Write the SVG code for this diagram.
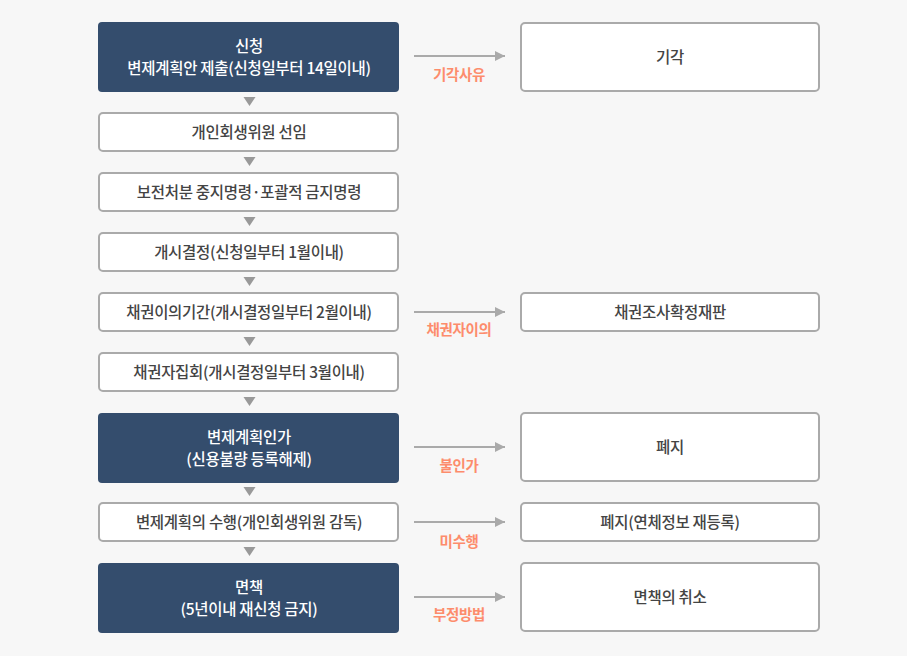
<svg xmlns="http://www.w3.org/2000/svg" width="907" height="656" viewBox="0 0 907 656">
<defs>
<style>
.bg{fill:#f7f7f7}
.w{fill:#ffffff;stroke:#aaaaaa;stroke-width:2}
.d{fill:#344d6d}
text{font-family:"Noto Sans CJK KR","Noto Sans",sans-serif;font-size:15.5px;text-anchor:middle;letter-spacing:-0.3px}
.tw{fill:#ffffff;font-weight:500}
.tg{fill:#444444;font-weight:500}
.lb{fill:#fd8c6c;font-weight:bold;font-size:14.5px}
.ln{stroke:#aaaaaa;stroke-width:2;fill:none}
.tri{fill:#999999}
</style>
<marker id="ah" viewBox="0 0 10 10" refX="10" refY="5" markerWidth="5" markerHeight="5" markerUnits="strokeWidth" orient="auto">
<path d="M0,0 L10,5 L0,10 z" fill="#aaaaaa"/>
</marker>
</defs>
<rect class="bg" x="0" y="0" width="907" height="656"/>
<g id="connectors">
<path class="tri" d="M243.5,97 L255.5,97 L249.5,106 z"/>
<path class="tri" d="M243.5,157 L255.5,157 L249.5,166 z"/>
<path class="tri" d="M243.5,217 L255.5,217 L249.5,226 z"/>
<path class="tri" d="M243.5,277 L255.5,277 L249.5,286 z"/>
<path class="tri" d="M243.5,337 L255.5,337 L249.5,346 z"/>
<path class="tri" d="M243.5,397 L255.5,397 L249.5,406 z"/>
<path class="tri" d="M243.5,487 L255.5,487 L249.5,496 z"/>
<path class="tri" d="M243.5,547 L255.5,547 L249.5,556 z"/>
<line class="ln" x1="414" y1="56" x2="505" y2="56" marker-end="url(#ah)"/>
<text class="lb" x="459" y="80">기각사유</text>
<line class="ln" x1="414" y1="312" x2="505" y2="312" marker-end="url(#ah)"/>
<text class="lb" x="459" y="335">채권자이의</text>
<line class="ln" x1="414" y1="447" x2="505" y2="447" marker-end="url(#ah)"/>
<text class="lb" x="459" y="471">불인가</text>
<line class="ln" x1="414" y1="522" x2="505" y2="522" marker-end="url(#ah)"/>
<text class="lb" x="459" y="547">미수행</text>
<line class="ln" x1="414" y1="597" x2="505" y2="597" marker-end="url(#ah)"/>
<text class="lb" x="459" y="620">부정방법</text>
</g>
<g id="n1"><rect class="d" x="98" y="22" width="301" height="70" rx="4"/><text class="tw" x="249" y="52">신청</text><text class="tw" x="249" y="74">변제계획안 제출(신청일부터 14일이내)</text></g>
<g id="n2"><rect class="w" x="99" y="113" width="299" height="38" rx="4"/><text class="tg" x="249" y="138">개인회생위원 선임</text></g>
<g id="n3"><rect class="w" x="99" y="173" width="299" height="38" rx="4"/><text class="tg" x="249" y="198">보전처분 중지명령·포괄적 금지명령</text></g>
<g id="n4"><rect class="w" x="99" y="233" width="299" height="38" rx="4"/><text class="tg" x="249" y="258">개시결정(신청일부터 1월이내)</text></g>
<g id="n5"><rect class="w" x="99" y="293" width="299" height="38" rx="4"/><text class="tg" x="249" y="318">채권이의기간(개시결정일부터 2월이내)</text></g>
<g id="n6"><rect class="w" x="99" y="353" width="299" height="38" rx="4"/><text class="tg" x="249" y="378">채권자집회(개시결정일부터 3월이내)</text></g>
<g id="n7"><rect class="d" x="98" y="413" width="301" height="70" rx="4"/><text class="tw" x="249" y="443">변제계획인가</text><text class="tw" x="249" y="465">(신용불량 등록해제)</text></g>
<g id="n8"><rect class="w" x="99" y="503" width="299" height="38" rx="4"/><text class="tg" x="249" y="528">변제계획의 수행(개인회생위원 감독)</text></g>
<g id="n9"><rect class="d" x="98" y="563" width="301" height="70" rx="4"/><text class="tw" x="249" y="593">면책</text><text class="tw" x="249" y="615">(5년이내 재신청 금지)</text></g>
<g id="r1"><rect class="w" x="521" y="23" width="298" height="68" rx="4"/><text class="tg" x="670" y="63">기각</text></g>
<g id="r2"><rect class="w" x="521" y="293" width="298" height="38" rx="4"/><text class="tg" x="670" y="318">채권조사확정재판</text></g>
<g id="r3"><rect class="w" x="521" y="413" width="298" height="68" rx="4"/><text class="tg" x="670" y="453">폐지</text></g>
<g id="r4"><rect class="w" x="521" y="503" width="298" height="38" rx="4"/><text class="tg" x="670" y="528">폐지(연체정보 재등록)</text></g>
<g id="r5"><rect class="w" x="521" y="563" width="298" height="68" rx="4"/><text class="tg" x="670" y="603">면책의 취소</text></g>
</svg>
